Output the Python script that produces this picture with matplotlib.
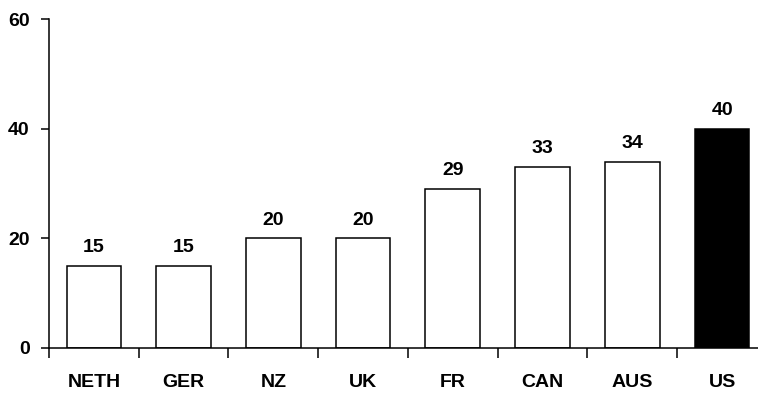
import numpy as np
import matplotlib.pyplot as plt

countries = ['NETH', 'GER', 'NZ', 'UK', 'FR', 'CAN', 'AUS', 'US']
values = [15, 15, 20, 20, 29, 33, 34, 40]
colors = ['white'] * 7 + ['black']

plt.rcParams['font.family'] = ['Liberation Sans', 'DejaVu Sans']
plt.rcParams['font.weight'] = 'bold'

fig = plt.figure(figsize=(7.58, 3.96), dpi=100)
ax = fig.add_axes([49/758, 1 - 348/396, 1 - 49/758, (348 - 19)/396])

x = np.arange(len(countries))
ax.bar(x, values, width=0.61, color=colors, edgecolor='black', linewidth=1.1)

for xi, v in zip(x, values):
    ax.annotate(str(v), (xi, v), xytext=(0, 7), textcoords='offset points',
                ha='center', va='bottom', fontsize=14, fontweight='bold')

ax.set_ylim(0, 60)
ax.set_yticks([0, 20, 40, 60])
ax.set_xlim(-0.5, 7.40)
ax.set_xticks(x)
ax.set_xticklabels(countries)
ax.set_xticks(np.arange(-0.5, 7.3, 1), minor=True)

ax.tick_params(axis='x', which='major', length=0, pad=19, labelsize=14)
ax.tick_params(axis='x', which='minor', length=7, width=1.1, direction='out')
ax.tick_params(axis='y', length=6, width=1.1, direction='out', labelsize=14, pad=8)

for lbl in ax.get_xticklabels() + ax.get_yticklabels():
    lbl.set_fontweight('bold')

ax.spines['top'].set_visible(False)
ax.spines['right'].set_visible(False)
ax.spines['left'].set_linewidth(1.1)
ax.spines['bottom'].set_linewidth(1.1)

fig.savefig('out.png', dpi=100)
